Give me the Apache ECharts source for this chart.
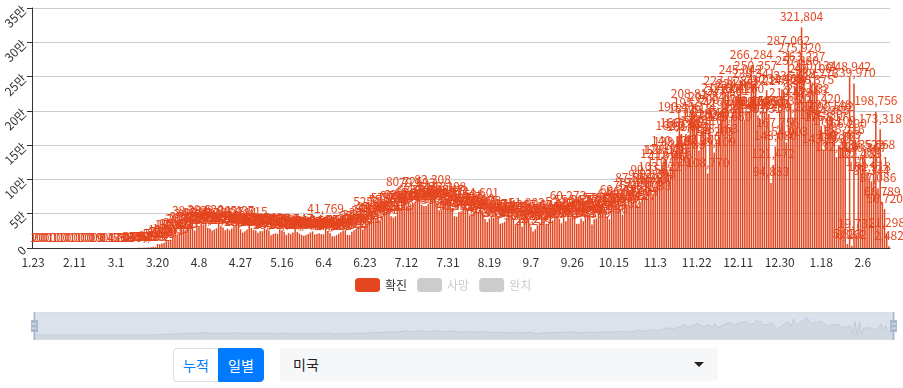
<!DOCTYPE html>
<html>
<head>
<meta charset="utf-8">
<script src="https://cdn.jsdelivr.net/npm/echarts@6/dist/echarts.min.js"></script>
<style>
  html, body { margin: 0; padding: 0; background: #fff; width: 903px; height: 388px; overflow: hidden; font-family: "Noto Sans CJK KR", "Noto Sans", sans-serif; }
  #chart { position: absolute; left: 0; top: 0; width: 903px; height: 345px; }
  .btn-group { position: absolute; left: 173px; top: 348px; height: 34px; display: flex; }
  .btn { box-sizing: border-box; height: 34px; width: 46px; font-size: 14px; line-height: 32px; text-align: center; border: 1px solid #007bff; }
  .btn.off { background: #fff; color: #007bff; border-color: #dee2e6; border-right: none; border-radius: 4px 0 0 4px; width: 45px; }
  .btn.on { background: #007bff; color: #fff; border-radius: 0 4px 4px 0; }
  .sel { position: absolute; left: 280px; top: 348px; width: 438px; height: 33px; background: #f6f7f9; border-radius: 4px; box-sizing: border-box; padding-left: 13px; font-size: 14px; line-height: 33px; color: #222; }
  .caret { position: absolute; right: 14px; top: 14px; width: 0; height: 0; border-left: 5px solid transparent; border-right: 5px solid transparent; border-top: 5px solid #222; }
</style>
</head>
<body>
<div id="chart"></div>
<div class="btn-group"><div class="btn off">누적</div><div class="btn on">일별</div></div>
<div class="sel">미국<span class="caret"></span></div>
<script>
// daily confirmed cases (미국), by month; first entry of jan2020 is 1.23
const jan2020 = [1, 2, 0, 0, 0, 0, 0, 0, 1];
const feb2020 = [0, 1, 0, 0, 1, 0, 0, 0, 0, 1, 0, 0, 1, 0, 0, 0, 0, 0, 0, 0, 19, 0, 0, 0, 0, 14, 1, 1, 6];
const mar2020 = [8, 7, 23, 20, 31, 68, 45, 140, 116, 65, 376, 322, 382, 516, 548, 772, 1133, 1789, 1362, 5894, 5423, 6389, 7787, 10571, 9893, 12038, 18058, 17821, 19821, 19408, 20921];
const apr2020 = [26365, 26543, 29874, 38284, 34026, 25316, 30351, 31851, 35827, 34302, 39620, 29305, 28391, 25364, 27003, 28711, 38045, 31836, 29910, 26066, 28185, 26055, 28606, 31601, 39437, 36144, 27433, 22415, 24422, 26873];
const may2020 = [37515, 29245, 26542, 25512, 22335, 24252, 24581, 28349, 26906, 25179, 18617, 20470, 21495, 20688, 27368, 25508, 23542, 18938, 22011, 20289, 22716, 27547, 23480, 21280, 19062, 17694, 18843, 20586, 22572, 24150, 19708];
const jun2020 = [20486, 21386, 20154, 19945, 41769, 24916, 21843, 17195, 17155, 18853, 20825, 23143, 25617, 25394, 19122, 18804, 23618, 26046, 27762, 31727, 32862, 26811, 31374, 36015, 38671, 52588, 45243, 43474, 41434, 40463];
const jul2020 = [44474, 52003, 55274, 57236, 46300, 44379, 46329, 60510, 57964, 62015, 80726, 60230, 58349, 58957, 65301, 67632, 79193, 71636, 63259, 61128, 61240, 63989, 70048, 83308, 74131, 65248, 55187, 56245, 64927, 69147, 73308];
const aug2020 = [68032, 58407, 46393, 45723, 52375, 53158, 58437, 62538, 54801, 47223, 49541, 53386, 55910, 52063, 64601, 52878, 42255, 37771, 43124, 47331, 44122, 48271, 44897, 35416, 36337, 38432, 44307, 45279, 47436, 43254, 34346];
const sep2020 = [35480, 41120, 30870, 45186, 51002, 42163, 31101, 24219, 27291, 33127, 36889, 47224, 41163, 34315, 35132, 39117, 40396, 44360, 47904, 42340, 36231, 52098, 38898, 60273, 44426, 55067, 46051, 35253, 35431, 43154];
const oct2020 = [39054, 44889, 54476, 49542, 34369, 42063, 43301, 50861, 57076, 58121, 54699, 46219, 41936, 51869, 58236, 64104, 69375, 55870, 48462, 66074, 61123, 62742, 75087, 87510, 79197, 61127, 67095, 74310, 79176, 91287, 99155];
const nov2020 = [86293, 75033, 84467, 92293, 103222, 121504, 128041, 128175, 110229, 118486, 140125, 138904, 162376, 190406, 166386, 134383, 166185, 161032, 187818, 208817, 195542, 178362, 142209, 170116, 175203, 181148, 108770, 204841, 154263, 139109];
const dec2020 = [158163, 180565, 200070, 217664, 227828, 213881, 175660, 193454, 216017, 221267, 224452, 245042, 217160, 187302, 197216, 199155, 266284, 238341, 250357, 193227, 188031, 197466, 197359, 230146, 195271, 94883, 121472, 148080, 167756, 199535, 231468];
const jan2021 = [227886, 154003, 287062, 210479, 190287, 235414, 257380, 275920, 321804, 263227, 213483, 216032, 245106, 230375, 250134, 238276, 201420, 178330, 143269, 176217, 184355, 193148, 190502, 170109, 132420, 150183, 147307, 156216, 166290, 5823, 248942];
const feb2021 = [3262, 239970, 19731, 122408, 121183, 134522, 130867, 110291, 102918, 97344, 135668, 198756, 87086, 173318, 66789, 56720, 21298, 2482];

// [month number, first day, values]
const months = [
  [1, 23, jan2020], [2, 1, feb2020], [3, 1, mar2020], [4, 1, apr2020], [5, 1, may2020], [6, 1, jun2020],
  [7, 1, jul2020], [8, 1, aug2020], [9, 1, sep2020], [10, 1, oct2020], [11, 1, nov2020], [12, 1, dec2020],
  [1, 1, jan2021], [2, 1, feb2021]
];
const categories = [];
const confirmed = [];
months.forEach(([m, d0, vals]) => {
  vals.forEach((v, i) => { categories.push(m + '.' + (d0 + i)); confirmed.push(v); });
});
const deaths = [];
const recovered = [];
const legendNames = ['확진', '사망', '완치'];

const RED = '#e4461f';
const FONT = '"Noto Sans CJK KR", "Noto Sans", sans-serif';
const fmt = v => String(v).replace(/\B(?=(\d{3})+(?!\d))/g, ',');

const chart = echarts.init(document.getElementById('chart'), null, { renderer: 'canvas' });
chart.setOption({
  animation: false,
  textStyle: { fontFamily: FONT },
  grid: { left: 32, right: 13, top: 8, bottom: 97, outerBoundsMode: 'none', containLabel: false },
  legend: {
    data: legendNames,
    left: 350, top: 273,
    itemWidth: 25, itemHeight: 14, itemGap: 10,
    textStyle: { color: '#333', fontSize: 12, fontFamily: FONT },
    inactiveColor: '#ccc',
    selected: { '확진': true, '사망': false, '완치': false }
  },
  xAxis: {
    type: 'category',
    data: categories,
    axisLine: { lineStyle: { color: '#333' } },
    axisTick: { interval: 18, lineStyle: { color: '#333' } },
    axisLabel: { interval: 18, color: '#333', fontSize: 12, fontFamily: FONT, margin: 8 }
  },
  yAxis: {
    type: 'value',
    min: 0, max: 350000, interval: 50000,
    axisLine: { show: true, lineStyle: { color: '#333' } },
    axisTick: { show: true, lineStyle: { color: '#333' } },
    splitLine: { lineStyle: { color: '#ccc' } },
    axisLabel: {
      rotate: 45, color: '#333', fontSize: 12, fontFamily: FONT,
      formatter: v => v === 0 ? '0' : (v / 10000) + '만'
    }
  },
  dataZoom: [{
    type: 'slider',
    left: 31, right: 11, top: 312, height: 28,
    start: 0, end: 100,
    showDetail: false,
    brushSelect: false,
    moveHandleSize: 0,
    backgroundColor: 'rgba(47,69,84,0)',
    borderColor: '#ddd',
    fillerColor: 'rgba(167,183,204,0.4)',
    handleIcon: 'M8.2,13.6V3.9H6.3v9.7H3.1v14.9h3.3v9.7h1.8v-9.7h3.3V13.6H8.2z M9.7,24.4H4.8v-1.4h4.9V24.4z M9.7,19.1H4.8v-1.4h4.9V19.1z',
    handleSize: '100%',
    handleStyle: { color: '#a7b7cc', borderColor: '#a7b7cc', borderWidth: 0 },
    dataBackground: {
      lineStyle: { color: '#2f4554', width: 0.5, opacity: 0.3 },
      areaStyle: { color: 'rgba(47,69,84,0.3)', opacity: 0.3 }
    },
    selectedDataBackground: {
      lineStyle: { color: '#2f4554', width: 0.5, opacity: 0.3 },
      areaStyle: { color: 'rgba(47,69,84,0.3)', opacity: 0.3 }
    },
    textStyle: { color: '#333' }
  }],
  series: [
    {
      name: '확진', type: 'bar', data: confirmed,
      itemStyle: { color: RED },
      label: { show: true, position: 'top', color: RED, fontSize: 12, fontFamily: FONT, formatter: p => fmt(p.value) }
    },
    { name: '사망', type: 'bar', data: deaths, itemStyle: { color: '#888' } },
    { name: '완치', type: 'bar', data: recovered, itemStyle: { color: '#4caf50' } }
  ]
});
</script>
</body>
</html>
